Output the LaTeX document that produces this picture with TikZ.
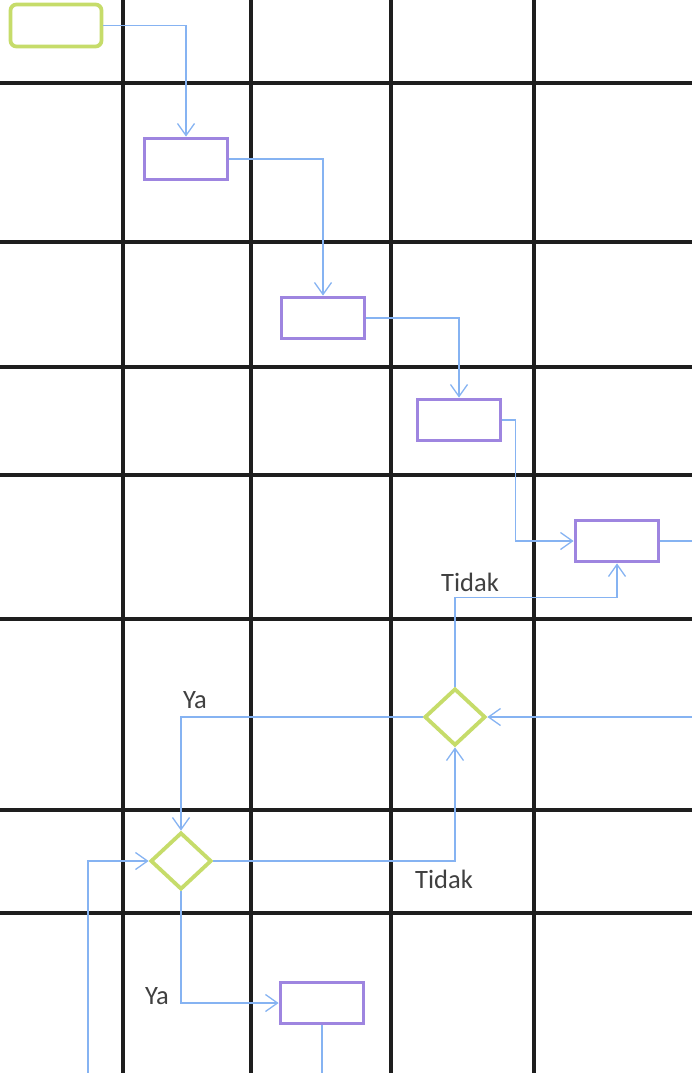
\documentclass[tikz,border=0pt]{standalone}
\usepackage{fontspec}
\setmainfont{Carlito}
\usetikzlibrary{positioning, arrows.meta, shapes.geometric}
\definecolor{startc}{HTML}{C6DC6A}
\definecolor{procc}{HTML}{9E85E0}
\definecolor{flowc}{HTML}{86B3F2}
\definecolor{gridc}{HTML}{1E1E1E}

\begin{document}
\begin{tikzpicture}[
    x=1pt, y=-1pt,
    >={Straight Barb[length=12pt, width=17pt]},
    lane/.style={gridc, line width=3.2pt},
    startbox/.style={draw=startc, fill=white, rounded corners=6pt, line width=3.8pt,
                minimum width=91pt, minimum height=42pt},
    procbox/.style={draw=procc, fill=white, line width=3.8pt,
                minimum width=83pt, minimum height=41pt},
    decide/.style={diamond, draw=startc, fill=white, line width=3.8pt, inner sep=0pt,
                minimum width=61pt, minimum height=57pt},
    flow/.style={->, flowc, line width=1.3pt},
    annot/.style={font=\fontsize{26.5}{28}\selectfont, text=black!75, inner sep=0pt},
]
\useasboundingbox (0,0) rectangle (692,1073);

% Grid of lanes
\foreach \gx in {123, 251, 391, 534}
    \draw[lane] (\gx,0) -- (\gx,1073);
\foreach \gy in {83, 242, 367, 475, 619, 810, 913}
    \draw[lane] (0,\gy) -- (692,\gy);

% Boxes
\node[startbox] (start) at (56,25.5) {};
\node[procbox] (p1) at (186,159) {};
\node[procbox] (p2) at (323,318) {};
\node[procbox] (p3) at (459,420) {};
\node[procbox] (p4) at (617,541) {};
\node[procbox] (p5) at (322,1003) {};

% Decisions
\node[decide] (d1) at (455,717) {};
\node[decide] (d2) at (181,861) {};

% Loose ends at the page border
\coordinate (loopin) at (88,1073);
\coordinate (loopout) at (322,1073);

% Main chain
\draw[flow] (start.east) -| (p1.north);
\draw[flow] (p1.east) -| (p2.north);
\draw[flow] (p2.east) -| (p3.north);
\draw[flow] (p3.east) -- ++(13,0) |- (p4.west);
\draw[flow] (p4.east) -- ++(33,0) |- (d1.east);

% Decision branches
\draw[flow] (d1.north) -- ++(0,-89) -| (p4.south);
\draw[flow] (d1.west) -| (d2.north);
\draw[flow] (d2.east) -| (d1.south);
\draw[flow] (d2.south) |- (p5.west);
\draw[flow] (loopin) |- (d2.west);
\draw[flowc, line width=1.3pt] (p5.south) -- (loopout);

% Labels
\node[annot] (t1) at (470,582) {Tidak};
\node[annot] (y1) at (195,700) {Ya};
\node[annot] (t2) at (444,879) {Tidak};
\node[annot] (y2) at (157,996) {Ya};

\end{tikzpicture}
\end{document}
